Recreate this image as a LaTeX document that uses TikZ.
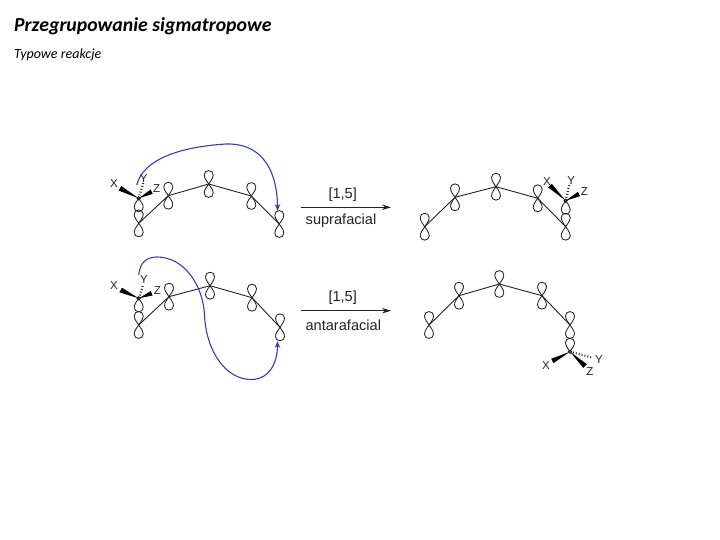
\documentclass[tikz,border=0pt]{standalone}
\usepackage{fontspec}
\setmainfont{Liberation Sans}
\newfontfamily\titlefont{Carlito}
\definecolor{arcblue}{RGB}{60,60,175}
\definecolor{inkdark}{RGB}{35,35,35}
\tikzset{
  lobeline/.style={draw=inkdark,line width=0.85pt,fill=none},
  bondline/.style={draw=inkdark,line width=0.9pt},
  wedgefill/.style={fill=black,draw=none},
  hashline/.style={draw=inkdark,line width=2.2pt,dash pattern=on 0.9pt off 2.1pt},
  atomlabel/.style={font=\fontsize{11.5}{13}\selectfont,text=inkdark,inner sep=0pt},
  rxnlabel/.style={font=\fontsize{14.6}{17}\selectfont,text=inkdark,inner sep=0pt},
  rxnarrow/.style={draw=inkdark,line width=0.9pt,-{Stealth[length=9pt,width=5.5pt]}},
  curlyarrow/.style={draw=arcblue,line width=1.1pt,-{Stealth[length=7pt,width=5.5pt]}},
  headtext/.style={anchor=base west,inner sep=0pt,text=black},
  pics/lobeup/.style={code={\draw[lobeline] (0,0) .. controls (-1.5,-2.5) and (-4.5,-5.5) .. (-4.5,-9.2) .. controls (-4.5,-11.8) and (-2.4,-13.4) .. (0,-13.4) .. controls (2.4,-13.4) and (4.5,-11.8) .. (4.5,-9.2) .. controls (4.5,-5.5) and (1.5,-2.5) .. (0,0);}},
  pics/lobedown/.style={code={\draw[lobeline] (0,0) .. controls (-1.5,2.5) and (-4.5,5.5) .. (-4.5,9.2) .. controls (-4.5,11.8) and (-2.4,13.4) .. (0,13.4) .. controls (2.4,13.4) and (4.5,11.8) .. (4.5,9.2) .. controls (4.5,5.5) and (1.5,2.5) .. (0,0);}},
  pics/porb/.style={code={\pic {lobeup}; \pic {lobedown};}}
}
\usetikzlibrary{arrows.meta}
\begin{document}
\begin{tikzpicture}[x=1pt,y=-1pt]
\useasboundingbox (0,0) rectangle (720,540);
\node[headtext,font=\titlefont\bfseries\itshape\fontsize{19.8}{23}\selectfont] (title) at (14,32) {Przegrupowanie sigmatropowe};
\node[headtext,font=\titlefont\itshape\fontsize{14}{17}\selectfont] (subtitle) at (14,59) {Typowe reakcje};

% --- top left
\coordinate (a1) at (138.7,223.3);
\coordinate (a2) at (168.3,195.7);
\coordinate (a3) at (208.7,184);
\coordinate (a4) at (251.3,196);
\coordinate (a5) at (279.3,224);
\coordinate (aS) at (138.7,198.3);
\coordinate (aXt) at (120,188.3);
\coordinate (aYt) at (143.3,182.7);
\coordinate (aZt) at (151.7,191.7);
\foreach \n in {a1,a2,a3,a4,a5} \pic at (\n) {porb};
\pic at (aS) {lobedown};
\draw[lobeline] (aS) circle (1.7);
\draw[bondline] (a1) -- (a2) -- (a3) -- (a4) -- (a5);
\fill[wedgefill] (aS) -- ([shift={(-1.3,2.3)}]aXt) -- ([shift={(1.3,-2.3)}]aXt) -- cycle;
\fill[wedgefill] (aS) -- ([shift={(-1,-2.2)}]aZt) -- ([shift={(1,2.2)}]aZt) -- cycle;
\draw[hashline] (aS) -- (aYt);
\node[atomlabel] (aX) at (114,184) {X};
\node[atomlabel] (aY) at (143.7,178.3) {Y};
\node[atomlabel] (aZ) at (156.7,188.3) {Z};
\coordinate (aArcS) at (136.7,185);
\coordinate (aArcE) at (277.6,211);
\draw[curlyarrow] (aArcS) .. controls (143,160) and (178,147) .. (226,144) .. controls (258,143) and (277,165) .. (aArcE);

% --- bottom left
\coordinate (b1) at (138.7,325);
\coordinate (b2) at (169,296.7);
\coordinate (b3) at (210,285.7);
\coordinate (b4) at (252,297.7);
\coordinate (b5) at (280,327.3);
\coordinate (bS) at (138.7,298.3);
\coordinate (bXt) at (120.7,290);
\coordinate (bYt) at (143,285);
\coordinate (bZt) at (151.7,293.3);
\foreach \n in {b1,b2,b3,b4,b5} \pic at (\n) {porb};
\pic at (bS) {lobedown};
\draw[lobeline] (bS) circle (1.7);
\draw[bondline] (b1) -- (b2) -- (b3) -- (b4) -- (b5);
\fill[wedgefill] (bS) -- ([shift={(-1.3,2.3)}]bXt) -- ([shift={(1.3,-2.3)}]bXt) -- cycle;
\fill[wedgefill] (bS) -- ([shift={(-1,-2.2)}]bZt) -- ([shift={(1,2.2)}]bZt) -- cycle;
\draw[hashline] (bS) -- (bYt);
\node[atomlabel] (bX) at (114,285.7) {X};
\node[atomlabel] (bY) at (144,280) {Y};
\node[atomlabel] (bZ) at (157.3,290.7) {Z};
\coordinate (bArcS) at (138.7,275);
\coordinate (bArcE) at (277.5,341);
\draw[curlyarrow] (bArcS) .. controls (140,262) and (147,257) .. (157,257) .. controls (184,257) and (203,285) .. (204.5,315) .. controls (206,350) and (225,380) .. (252,379.5) .. controls (270,379) and (277.5,362) .. (bArcE);

% --- reaction arrows
\coordinate (r1s) at (301,207.3);
\coordinate (r1e) at (391,207.3);
\coordinate (r2s) at (301,310.7);
\coordinate (r2e) at (391,310.7);
\draw[rxnarrow] (r1s) -- (r1e);
\draw[rxnarrow] (r2s) -- (r2e);
\node[rxnlabel] (r1t) at (342.7,194.3) {[1,5]};
\node[rxnlabel] (r1b) at (341,220.7) {suprafacial};
\node[rxnlabel] (r2t) at (342.7,297.3) {[1,5]};
\node[rxnlabel] (r2b) at (343.3,325) {antarafacial};

% --- top right
\coordinate (c1) at (424.7,226.7);
\coordinate (c2) at (455,197.3);
\coordinate (c3) at (496,186.7);
\coordinate (c4) at (537.7,198.3);
\coordinate (c5) at (565.7,226.7);
\coordinate (cS) at (565.7,200.7);
\coordinate (cXt) at (550,185.7);
\coordinate (cYt) at (569.3,185);
\coordinate (cZt) at (579,194);
\foreach \n in {c1,c2,c3,c4,c5} \pic at (\n) {porb};
\pic at (cS) {lobedown};
\draw[lobeline] (cS) circle (1.7);
\draw[bondline] (c1) -- (c2) -- (c3) -- (c4) -- (c5);
\fill[wedgefill] (cS) -- ([shift={(-1.8,1.8)}]cXt) -- ([shift={(1.8,-1.8)}]cXt) -- cycle;
\fill[wedgefill] (cS) -- ([shift={(-1,-2.2)}]cZt) -- ([shift={(1,2.2)}]cZt) -- cycle;
\draw[hashline] (cS) -- (cYt);
\node[atomlabel] (cX) at (547,181.7) {X};
\node[atomlabel] (cY) at (571.3,181) {Y};
\node[atomlabel] (cZ) at (584.3,191.7) {Z};

% --- bottom right
\coordinate (d1) at (429,325);
\coordinate (d2) at (459,295.7);
\coordinate (d3) at (499.3,284);
\coordinate (d4) at (542,295.7);
\coordinate (d5) at (570,325);
\coordinate (dS) at (570,351.7);
\coordinate (dXt) at (552.3,361);
\coordinate (dYt) at (591,357.3);
\coordinate (dZt) at (585,366);
\foreach \n in {d1,d2,d3,d4,d5} \pic at (\n) {porb};
\pic at (dS) {lobeup};
\draw[lobeline] (dS) circle (1.7);
\draw[bondline] (d1) -- (d2) -- (d3) -- (d4) -- (d5);
\fill[wedgefill] (dS) -- ([shift={(-1.1,-2.2)}]dXt) -- ([shift={(1.1,2.2)}]dXt) -- cycle;
\fill[wedgefill] (dS) -- ([shift={(-1.8,1.8)}]dZt) -- ([shift={(1.8,-1.8)}]dZt) -- cycle;
\draw[hashline] (dS) -- (dYt);
\node[atomlabel] (dX) at (546,366) {X};
\node[atomlabel] (dY) at (599,360) {Y};
\node[atomlabel] (dZ) at (590,371.7) {Z};
\end{tikzpicture}
\end{document}
